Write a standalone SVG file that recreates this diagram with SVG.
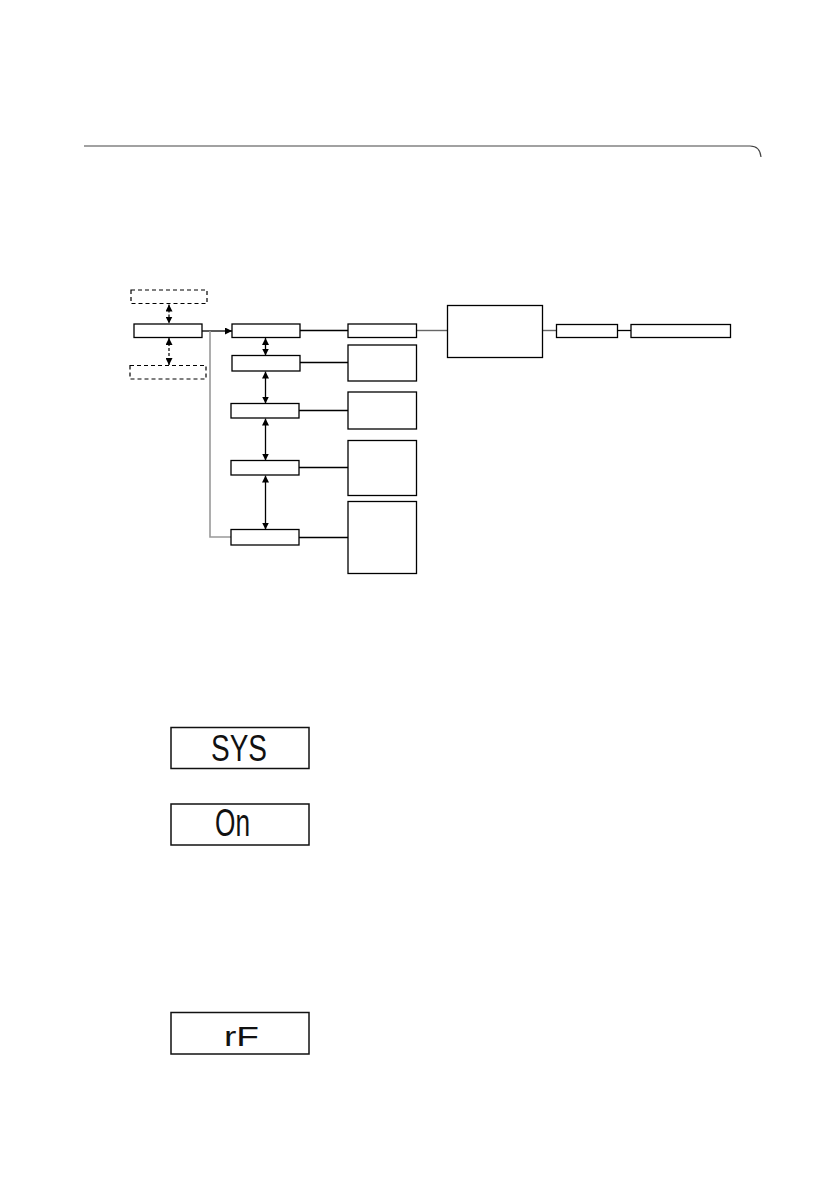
<svg xmlns="http://www.w3.org/2000/svg" width="838" height="1190" viewBox="0 0 838 1190">
<defs>
<style>
.box{fill:#fff;stroke:#000;stroke-width:1.3}
.dash{fill:#fff;stroke:#000;stroke-width:1.2;stroke-dasharray:4 3}
.ln{fill:none;stroke:#000;stroke-width:1.3}
.gl{fill:none;stroke:#999;stroke-width:1.6}
.dl{fill:none;stroke:#000;stroke-width:1.2;stroke-dasharray:3 2}
.lcd{fill:#fff;stroke:#111;stroke-width:1.5}
.seg{font-family:"Liberation Sans",Arial,sans-serif;fill:#111}
</style>
<marker id="ah" viewBox="0 0 10 10" refX="10" refY="5" markerWidth="7" markerHeight="7" markerUnits="userSpaceOnUse" orient="auto-start-reverse">
<path d="M0,0 L10,5 L0,10 Z" fill="#000"/>
</marker>
<marker id="ah2" viewBox="0 0 10 10" refX="10" refY="5" markerWidth="7" markerHeight="7" markerUnits="userSpaceOnUse" orient="auto-start-reverse">
<path d="M0,0 L10,5 L0,10 Z" fill="#000"/>
</marker>
</defs>
<rect width="838" height="1190" fill="#fff"/>
<path d="M84,146 H750 Q760,146 761,157" fill="none" stroke="#444" stroke-width="1.2"/>

<g id="connectors">
<path class="dl" d="M169,304.5 V323.5" marker-start="url(#ah)" marker-end="url(#ah)"/>
<path class="dl" d="M169,338 V365" marker-start="url(#ah)" marker-end="url(#ah)"/>
<path class="ln" d="M202,331 H232" marker-end="url(#ah2)"/>
<path class="gl" d="M210,331 V537 H231"/>
<path class="ln" d="M265.5,338 V355.5" marker-start="url(#ah)" marker-end="url(#ah)"/>
<path class="ln" d="M265.5,371.5 V403.5" marker-start="url(#ah)" marker-end="url(#ah)"/>
<path class="ln" d="M265.5,418.5 V460.5" marker-start="url(#ah)" marker-end="url(#ah)"/>
<path class="ln" d="M265.5,475.5 V529.5" marker-start="url(#ah)" marker-end="url(#ah)"/>
<path class="ln" d="M300,330.5 H348"/>
<path class="ln" d="M300,362.5 H348"/>
<path class="ln" d="M299,410.5 H348"/>
<path class="ln" d="M299,467.5 H348"/>
<path class="ln" d="M299,537.5 H348"/>
<path d="M417,330.5 H447" fill="none" stroke="#666" stroke-width="1.4"/>
<path d="M543,330.5 H556" fill="none" stroke="#666" stroke-width="1.4"/>
<path class="ln" d="M617,330.5 H631"/>
</g>

<g id="n-top-dashed"><rect class="dash" x="131" y="290" width="76" height="13.5"/></g>
<g id="n-main"><rect class="box" x="134" y="324" width="68" height="13.5"/></g>
<g id="n-bottom-dashed"><rect class="dash" x="130" y="365.5" width="76" height="13.5"/></g>

<g id="n-c1"><rect class="box" x="232" y="324" width="68" height="13.5"/></g>
<g id="n-c2"><rect class="box" x="232" y="355.5" width="68" height="15.5"/></g>
<g id="n-c3"><rect class="box" x="231" y="403.5" width="68" height="14.5"/></g>
<g id="n-c4"><rect class="box" x="231" y="460.5" width="68" height="14.5"/></g>
<g id="n-c5"><rect class="box" x="231" y="529.5" width="68" height="15.5"/></g>

<g id="n-r1"><rect class="box" x="348" y="324" width="68.5" height="13.5"/></g>
<g id="n-r2"><rect class="box" x="348" y="345" width="68.5" height="36"/></g>
<g id="n-r3"><rect class="box" x="348" y="392" width="68.5" height="37"/></g>
<g id="n-r4"><rect class="box" x="348" y="440.5" width="68.5" height="55"/></g>
<g id="n-r5"><rect class="box" x="348" y="501.5" width="68.5" height="72"/></g>

<g id="n-big"><rect class="box" x="447.5" y="305.5" width="95" height="52"/></g>
<g id="n-f"><rect class="box" x="556.5" y="324.5" width="61" height="13"/></g>
<g id="n-g"><rect class="box" x="631" y="324.5" width="99.5" height="13"/></g>

<g id="lcd-sys">
<rect class="lcd" x="171" y="727.5" width="138" height="41"/>
<text class="seg" x="211" y="761" font-size="37" textLength="56" lengthAdjust="spacingAndGlyphs">SYS</text>
</g>
<g id="lcd-on">
<rect class="lcd" x="171" y="804" width="138" height="41"/>
<text class="seg" x="215" y="836" font-size="39" textLength="35" lengthAdjust="spacingAndGlyphs">On</text>
</g>
<g id="lcd-rf">
<rect class="lcd" x="171" y="1012.5" width="138" height="41.5"/>
<text class="seg" x="224" y="1046" font-size="28" textLength="35" lengthAdjust="spacingAndGlyphs">rF</text>
</g>
</svg>
